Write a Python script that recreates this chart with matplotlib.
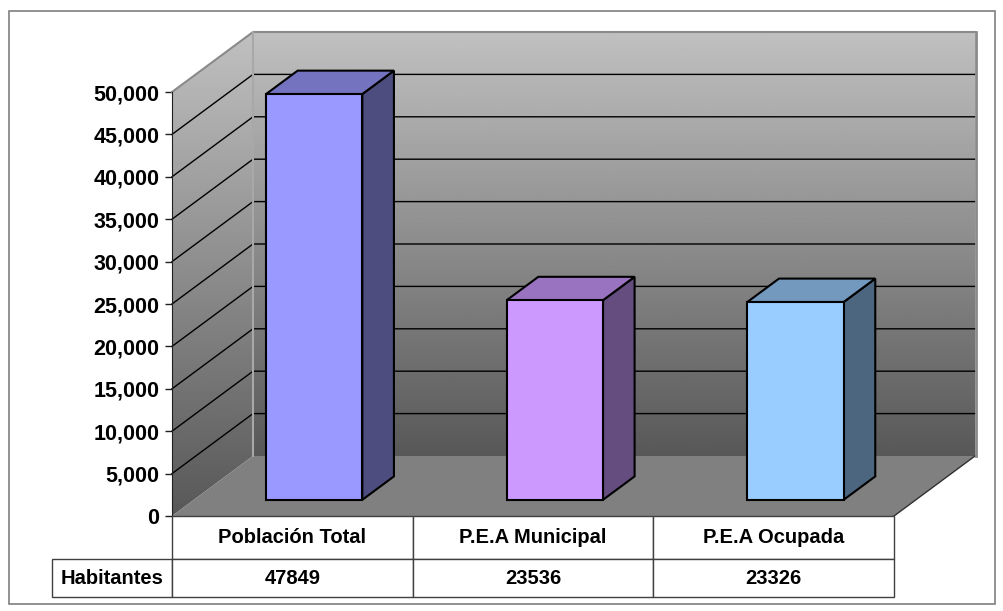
import numpy as np
import matplotlib
matplotlib.use("Agg")
import matplotlib.pyplot as plt
from matplotlib.patches import Polygon, Rectangle
from matplotlib.transforms import IdentityTransform
from matplotlib.ticker import StrMethodFormatter

plt.rcParams['font.family'] = ['Liberation Sans', 'DejaVu Sans']

# datos
categorias = ['Población Total', 'P.E.A Municipal', 'P.E.A Ocupada']
habitantes = [47849, 23536, 23326]
fila_nombre = 'Habitantes'

color_frente = ['#9999FF', '#CC99FF', '#99CCFF']
color_arriba = ['#7373BF', '#9973BF', '#7399BF']
color_lado = ['#4D4D80', '#664D80', '#4D6680']

ymax = 50000
paso = 5000
# profundidad de la vista 3D en pixeles
OX, OY = 81, 60

fig = plt.figure(figsize=(10.04, 6.11), dpi=100)
ax = fig.add_axes([172 / 1004, (611 - 516) / 611, 722 / 1004, 424 / 611])
ax.set_xlim(0, len(categorias))
ax.set_ylim(0, ymax)
ax.set_autoscale_on(False)


def pt(x, v, d):
    p = ax.transData.transform((x, v))
    return (p[0] + d * OX, p[1] + d * OY)


def poly(verts, **kw):
    p = Polygon(verts, closed=True, transform=IdentityTransform(), clip_on=False, **kw)
    ax.add_patch(p)
    return p


def degradado(verts, z):
    # gris claro arriba, oscuro abajo
    p = Polygon(verts, closed=True, transform=IdentityTransform())
    xs = [v[0] for v in verts]
    ys = [v[1] for v in verts]
    g = np.linspace(88, 192, 256).reshape(-1, 1)
    im = ax.imshow(g, extent=(min(xs), max(xs), min(ys), max(ys)), origin='lower',
                   transform=IdentityTransform(), cmap='gray', vmin=0, vmax=255,
                   aspect='auto', interpolation='bilinear', zorder=z)
    im.set_clip_path(p)
    im.set_clip_box(fig.bbox)


n = len(categorias)
# pared del fondo y pared lateral
fondo = [pt(0, 0, 1), pt(n, 0, 1), pt(n, ymax, 1), pt(0, ymax, 1)]
lado = [pt(0, 0, 0), pt(0, 0, 1), pt(0, ymax, 1), pt(0, ymax, 0)]
degradado(fondo, 0)
degradado(lado, 0)
ax.set_xlim(0, n)
ax.set_ylim(0, ymax)

# piso
poly([pt(0, 0, 0), pt(n, 0, 0), pt(n, 0, 1), pt(0, 0, 1)], fc='#808080', ec='none', zorder=1)
ax.plot(*zip(pt(n, 0, 0), pt(n, 0, 1)), transform=IdentityTransform(), color='#303030',
        lw=1, clip_on=False, zorder=2)

# lineas de division
for v in range(paso, ymax, paso):
    a, b, c = pt(0, v, 0), pt(0, v, 1), pt(n, v, 1)
    ax.plot([a[0], b[0], c[0]], [a[1], b[1], c[1]], transform=IdentityTransform(),
            color='black', lw=1, clip_on=False, zorder=2)

# bordes de las paredes
a, b, c = pt(0, ymax, 0), pt(0, ymax, 1), pt(n, ymax, 1)
ax.plot([a[0], b[0], c[0]], [a[1], b[1], c[1]], transform=IdentityTransform(),
        color='#8a8a8a', lw=1.5, clip_on=False, zorder=2)
a, b = pt(n, 0, 1), pt(n, ymax, 1)
ax.plot([a[0] + 1, b[0] + 1], [a[1], b[1]], transform=IdentityTransform(),
        color='#8a8a8a', lw=2, clip_on=False, zorder=2)
a, b = pt(0, 0, 1), pt(0, ymax, 1)
ax.plot([a[0], b[0]], [a[1], b[1]], transform=IdentityTransform(),
        color='#a8a8a8', lw=1.5, clip_on=False, zorder=2)

# barras 3D
d0, d1 = 0.27, 0.66
w = 0.2
for i, v in enumerate(habitantes):
    x0, x1 = i + 0.5 - w, i + 0.5 + w
    kw = dict(ec='black', lw=1.5, joinstyle='miter', zorder=3)
    poly([pt(x1, 0, d0), pt(x1, 0, d1), pt(x1, v, d1), pt(x1, v, d0)], fc=color_lado[i], **kw)
    poly([pt(x0, v, d0), pt(x1, v, d0), pt(x1, v, d1), pt(x0, v, d1)], fc=color_arriba[i], **kw)
    poly([pt(x0, 0, d0), pt(x1, 0, d0), pt(x1, v, d0), pt(x0, v, d0)], fc=color_frente[i], **kw)

# eje y
for s in ['top', 'right', 'bottom']:
    ax.spines[s].set_visible(False)
ax.spines['left'].set_color('#202020')
ax.spines['left'].set_zorder(4)
ax.set_xticks([])
ax.set_yticks(range(0, ymax + 1, paso))
ax.yaxis.set_major_formatter(StrMethodFormatter('{x:,.0f}'))
ax.tick_params(axis='y', length=5, width=1, color='#202020', pad=4,
               labelsize=15.5)
for t in ax.get_yticklabels():
    t.set_fontweight('bold')
ax.patch.set_visible(False)

# tabla de datos
filas = [[''] + categorias, [fila_nombre] + [str(v) for v in habitantes]]
ancho_lbl = 120 / 722
ancho_col = 1 / n
tbl = ax.table(cellText=filas, colWidths=[ancho_lbl] + [ancho_col] * n,
               cellLoc='center', bbox=[-ancho_lbl, -81 / 424, 1 + ancho_lbl, 81 / 424])
tbl.auto_set_font_size(False)
for (r, c), cell in tbl.get_celld().items():
    cell.set_edgecolor('#404040')
    cell.set_linewidth(1)
    cell.set_height(43 if r == 0 else 38)
    cell.get_text().set_fontsize(14.5)
    cell.get_text().set_fontweight('bold')
    cell.set_facecolor('white')
tbl[0, 0].visible_edges = ''
tbl[0, 0].set_facecolor('none')
tbl.set_zorder(5)

# marco exterior
fig.add_artist(Rectangle((9 / 1004, (611 - 604) / 611), 986 / 1004, 593 / 611,
                         transform=fig.transFigure, fill=False, ec='#7f7f7f', lw=1.2))

fig.savefig('out.png', dpi=100)
